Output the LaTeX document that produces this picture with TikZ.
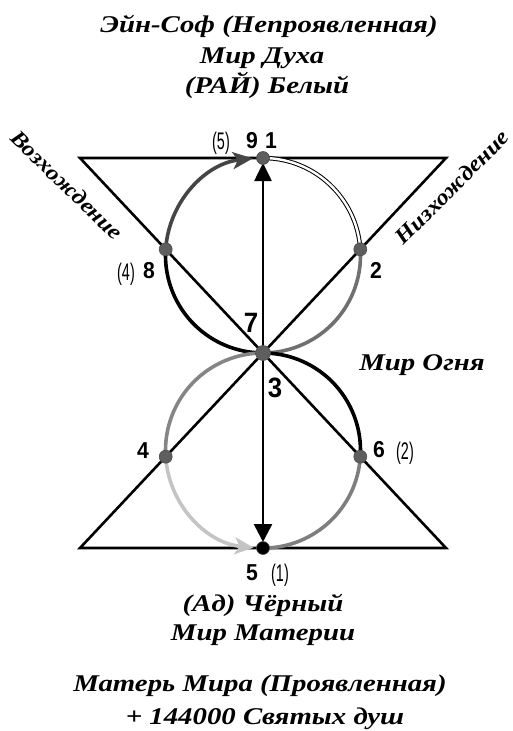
\documentclass[tikz,border=0pt]{standalone}
\usepackage{fontspec}
\setmainfont{Liberation Serif}
\newfontfamily\ttlfont[FakeStretch=1.2]{Liberation Serif}
\newfontfamily\sidefont[FakeStretch=1.12]{Liberation Serif}
\newfontfamily\numfont[FakeStretch=0.92]{Liberation Sans}
\newfontfamily\pnumfont[FakeStretch=0.6]{Liberation Sans}
\usetikzlibrary{arrows.meta}
\definecolor{dkgray}{HTML}{454545}
\definecolor{mdgray}{HTML}{707070}
\definecolor{ltgray}{HTML}{C4C4C4}
\definecolor{dotgray}{HTML}{5E5E5E}
\tikzset{
  ttl/.style={font=\ttlfont\fontsize{24}{26}\selectfont\bfseries\itshape, inner sep=0pt, anchor=base},
  side/.style={font=\sidefont\fontsize{22}{24}\selectfont\bfseries\itshape, inner sep=0pt, anchor=center},
  num/.style={font=\numfont\fontsize{23}{24}\selectfont\bfseries, inner sep=0pt, anchor=base},
  bignum/.style={font=\numfont\fontsize{28}{28}\selectfont\bfseries, inner sep=0pt, anchor=base},
  pnum/.style={font=\pnumfont\fontsize{24}{24}\selectfont, inner sep=0pt, anchor=base},
  tri/.style={line width=2.6pt, line join=miter},
  arcline/.style={line width=3.6pt},
  dot/.style={circle, fill=dotgray, draw=black!70, line width=0.6pt, minimum size=13pt, inner sep=0pt},
}
\begin{document}
\begin{tikzpicture}[x=1pt,y=-1pt]
\useasboundingbox (0,0) rectangle (512,731);
% key coordinates
\coordinate (TL) at (80,158);
\coordinate (TR) at (446,158);
\coordinate (BL) at (80,548);
\coordinate (BR) at (446,548);
\coordinate (T) at (263,158);
\coordinate (C) at (263,353);
\coordinate (B) at (263,548);
\coordinate (P8) at (165.7,249.3);
\coordinate (P2) at (360.3,249.3);
\coordinate (P4) at (165.7,456.7);
\coordinate (P6) at (360.3,456.7);
\coordinate (Tup) at (263,163);
\coordinate (Bdn) at (263,542);
% triangles (hourglass)
\draw[tri] (TL) -- (TR) -- (BL) -- (BR) -- cycle;
% top circle arcs (center (263,255.5), r=97.5)
\draw[arcline, draw=black] (P8) arc[start angle=183.6, end angle=90, radius=97.5];
\draw[arcline, draw=mdgray] (P2) arc[start angle=356.4, end angle=450, radius=97.5];
\draw[line width=1pt, double=white, double distance=2.4pt] (T) arc[start angle=270, end angle=356.4, radius=97.5];
\draw[arcline, draw=dkgray, -{Stealth[length=20pt,width=17pt,inset=5pt]}] (P8) arc[start angle=183.6, end angle=264, radius=97.5];
% bottom circle arcs (center (263,450.5))
\draw[arcline, draw=black] (C) arc[start angle=270, end angle=363.6, radius=97.5];
\draw[arcline, draw=mdgray!90] (P6) arc[start angle=3.6, end angle=90, radius=97.5];
\draw[arcline, draw=mdgray!85] (C) arc[start angle=270, end angle=176.4, radius=97.5];
\draw[arcline, draw=ltgray, -{Stealth[length=19pt,width=17pt,inset=5pt]}] (P4) arc[start angle=176.4, end angle=95.5, radius=97.5];
% vertical axis with arrows
\draw[line width=2.6pt, -{Triangle[length=18pt,width=17pt]}, draw=black, fill=dkgray] (C) -- (Tup);
\draw[line width=2.6pt, -{Triangle[length=18pt,width=18pt]}, draw=black, fill=dkgray] (C) -- (Bdn);
% dots
\node[dot] (d1) at (T) {};
\node[dot] (d8) at (P8) {};
\node[dot] (d2) at (P2) {};
\node[dot, minimum size=15pt] (d3) at (C) {};
\node[dot] (d4) at (P4) {};
\node[dot] (d6) at (P6) {};
\node[dot, fill=black] (d5) at (B) {};
% numbers
\node[pnum] (n5p) at (221,149) {(5)};
\node[num] (n9) at (252,148) {9};
\node[num] (n1) at (271,148) {1};
\node[pnum] (n4p) at (126,280) {(4)};
\node[num] (n8) at (149,278) {8};
\node[num] (n2) at (376,278) {2};
\node[bignum] (n7) at (251,332) {7};
\node[bignum] (n3) at (275,397) {3};
\node[num] (n4) at (143,458) {4};
\node[num] (n6) at (379,457) {6};
\node[pnum] (n2p) at (405,459) {(2)};
\node[num] (n5) at (252,580) {5};
\node[pnum] (n1p) at (280,581) {(1)};
% titles
\node[ttl] (t1) at (269,32) {Эйн-Соф (Непроявленная)};
\node[ttl] (t2) at (262,63) {Мир Духа};
\node[ttl] (t3) at (267,93) {(РАЙ) Белый};
\node[ttl] (t4) at (263,611) {(Ад) Чёрный};
\node[ttl] (t5) at (263,640) {Мир Материи};
\node[ttl] (t6) at (260,691) {Матерь Мира (Проявленная)};
\node[ttl] (t7) at (265,724) {+ 144000 Святых душ};
\node[ttl] (fire) at (422,370) {Мир Огня};
\node[side, rotate=-44] (up) at (67,185) {Возхождение};
\node[side, rotate=45] (down) at (452,187) {Низхождение};
\end{tikzpicture}
\end{document}
